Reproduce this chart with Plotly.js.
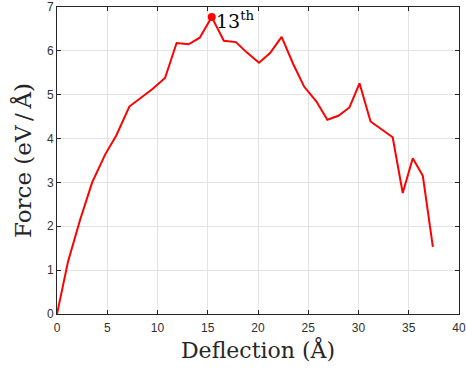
<!DOCTYPE html>
<html>
<head>
<meta charset="utf-8">
<script src="https://cdn.plot.ly/plotly-3.0.1.min.js"></script>
<style>html,body{margin:0;padding:0;background:#fff;}#chart{width:466px;height:368px;}</style>
</head>
<body>
<div id="chart"></div>
<script>
const deflection = [0, 1.1, 2.3, 3.5, 4.8, 5.9, 7.2, 8.4, 9.5, 10.75, 11.9, 13.1, 14.2, 15.4, 16.6, 17.8, 18.9, 20.1, 21.2, 22.35, 23.5, 24.6, 25.8, 26.9, 28.0, 29.1, 30.1, 31.2, 32.3, 33.4, 34.4, 35.4, 36.4, 37.4];
const force = [0, 1.2, 2.15, 3.0, 3.64, 4.07, 4.73, 4.94, 5.13, 5.38, 6.18, 6.15, 6.3, 6.77, 6.23, 6.2, 5.96, 5.73, 5.95, 6.32, 5.7, 5.18, 4.85, 4.43, 4.52, 4.71, 5.26, 4.39, 4.21, 4.03, 2.76, 3.55, 3.15, 1.53];
const highlightIndex = 13;
const highlightLabel = "13<sup>th</sup>";
const xTicks = [0, 5, 10, 15, 20, 25, 30, 35, 40];
const yTicks = [0, 1, 2, 3, 4, 5, 6, 7];
const xTitle = "Deflection (Å)";
const yTitle = "Force (eV\u2009/\u2009Å)";

const serif = "DejaVu Serif, Liberation Serif, serif";
const sans = "Liberation Sans, Arial, sans-serif";

const traces = [
  {x: deflection, y: force, type: "scatter", mode: "lines",
   line: {color: "#ff0000", width: 2}, hoverinfo: "skip"},
  {x: [deflection[highlightIndex]], y: [force[highlightIndex]], type: "scatter", mode: "markers",
   marker: {color: "#ff0000", size: 8}, hoverinfo: "skip"}
];

const axisCommon = {
  showline: true, mirror: "ticks", linecolor: "#262626", linewidth: 1,
  ticks: "inside", ticklen: 4, tickcolor: "#262626",
  showgrid: true, gridcolor: "#e3e3e3", gridwidth: 1,
  zeroline: false, tickfont: {family: sans, size: 12, color: "#303030"}
};

const layout = {
  width: 466, height: 368,
  margin: {l: 57, r: 7, t: 7, b: 54},
  paper_bgcolor: "#ffffff", plot_bgcolor: "#ffffff",
  showlegend: false,
  xaxis: Object.assign({}, axisCommon, {
    range: [0, 40], tickvals: xTicks, ticktext: xTicks.map(String),
    ticklabelstandoff: 3,
    title: {text: xTitle, font: {family: serif, size: 22, color: "#262626"}, standoff: 8}
  }),
  yaxis: Object.assign({}, axisCommon, {
    range: [0, 7], tickvals: yTicks, ticktext: yTicks.map(String),
    title: {text: yTitle, font: {family: serif, size: 23, color: "#262626"}, standoff: 8}
  }),
  annotations: [{
    x: deflection[highlightIndex], y: force[highlightIndex],
    xref: "x", yref: "y", text: highlightLabel, showarrow: false,
    xanchor: "left", yanchor: "middle", xshift: 2, yshift: -3,
    font: {family: serif, size: 19, color: "#000000"}
  }]
};

Plotly.newPlot("chart", traces, layout, {displayModeBar: false, staticPlot: true});
</script>
</body>
</html>
